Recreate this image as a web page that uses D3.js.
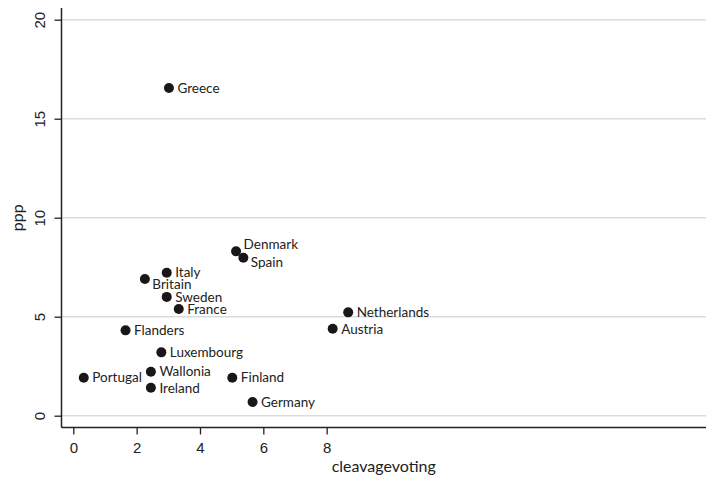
<!DOCTYPE html>
<html>
<head>
<meta charset="utf-8">
<script src="https://cdn.jsdelivr.net/npm/d3@7"></script>
<style>
  html, body { margin: 0; padding: 0; background: #fff; }
  svg { display: block; font-family: Lato, "Open Sans", sans-serif; }
</style>
</head>
<body>
<svg id="chart" width="706" height="479"></svg>
<script>
// Party-system size (ppp) against cleavage voting, by country/region
const countries = ["Greece", "Denmark", "Spain", "Italy", "Britain", "Sweden", "France",
  "Flanders", "Luxembourg", "Wallonia", "Ireland", "Portugal", "Finland", "Germany",
  "Netherlands", "Austria"];
const cleavagevoting = [3.02, 5.14, 5.37, 2.95, 2.26, 2.95, 3.33,
  1.65, 2.78, 2.45, 2.45, 0.33, 5.02, 5.66, 8.68, 8.19];
const ppp = [16.55, 8.30, 7.98, 7.22, 6.90, 6.00, 5.39,
  4.31, 3.20, 2.22, 1.41, 1.92, 1.92, 0.69, 5.22, 4.39];
// label clock positions (3 = right, 2 = upper right, 4 = lower right)
const labelPos = [3, 2, 4, 3, 4, 3, 3, 3, 3, 3, 3, 3, 3, 3, 3, 3];

const xTicks = [0, 2, 4, 6, 8];
const yTicks = [0, 5, 10, 15, 20];

const svg = d3.select("#chart");
const plot = { left: 61.5, right: 706, top: 8, bottom: 427.5 };

const x = d3.scaleLinear().domain([0, 20]).range([73.3, 706.7]);
const y = d3.scaleLinear().domain([0, 20]).range([415.7, 19.7]);

// horizontal grid lines
svg.append("g")
  .selectAll("line")
  .data(yTicks)
  .join("line")
  .attr("x1", plot.left).attr("x2", plot.right)
  .attr("y1", d => y(d)).attr("y2", d => y(d))
  .attr("stroke", "#dcdcdc").attr("stroke-width", 1.4);

// y axis, tick labels turned to read upwards
const yAxis = svg.append("g")
  .attr("transform", `translate(${plot.left},0)`)
  .call(d3.axisLeft(y).tickValues(yTicks).tickSize(7));
yAxis.select(".domain").remove();
yAxis.selectAll(".tick line").attr("stroke", "#222").attr("stroke-width", 1.3);
yAxis.selectAll(".tick text")
  .attr("font-size", 15).attr("fill", "#222")
  .attr("text-anchor", "middle")
  .attr("dy", "0.35em")
  .attr("x", 0).attr("y", 0)
  .attr("transform", "translate(-22,0) rotate(-90)");

// x axis
const xAxis = svg.append("g")
  .attr("transform", `translate(0,${plot.bottom})`)
  .call(d3.axisBottom(x).tickValues(xTicks).tickSize(7).tickPadding(8));
xAxis.select(".domain").remove();
xAxis.selectAll(".tick line").attr("stroke", "#222").attr("stroke-width", 1.3);
xAxis.selectAll(".tick text")
  .attr("font-size", 15).attr("fill", "#222");

// axis lines
svg.append("line")
  .attr("x1", plot.left).attr("x2", plot.left)
  .attr("y1", plot.top).attr("y2", plot.bottom)
  .attr("stroke", "#222").attr("stroke-width", 1.5);
svg.append("line")
  .attr("x1", plot.left).attr("x2", plot.right)
  .attr("y1", plot.bottom).attr("y2", plot.bottom)
  .attr("stroke", "#222").attr("stroke-width", 1.5);

// axis titles
svg.append("text")
  .attr("x", (plot.left + plot.right) / 2).attr("y", 472)
  .attr("text-anchor", "middle")
  .attr("font-size", 16).attr("fill", "#222")
  .text("cleavagevoting");
svg.append("text")
  .attr("transform", `translate(23,${(plot.top + plot.bottom) / 2}) rotate(-90)`)
  .attr("text-anchor", "middle")
  .attr("font-size", 16).attr("fill", "#222")
  .text("ppp");

const data = countries.map((c, i) => ({ name: c, x: cleavagevoting[i], y: ppp[i], pos: labelPos[i] }));

// markers
svg.append("g")
  .selectAll("circle")
  .data(data)
  .join("circle")
  .attr("cx", d => x(d.x)).attr("cy", d => y(d.y))
  .attr("r", 5)
  .attr("fill", "#1b1718");

// marker labels
svg.append("g")
  .selectAll("text")
  .data(data)
  .join("text")
  .attr("x", d => x(d.x) + (d.pos === 3 ? 8.5 : 7.5))
  .attr("y", d => y(d.y) + (d.pos === 2 ? -7 : d.pos === 4 ? 5 : 0))
  .attr("dy", "0.35em")
  .attr("font-size", 13.5).attr("fill", "#222")
  .text(d => d.name);
</script>
</body>
</html>
